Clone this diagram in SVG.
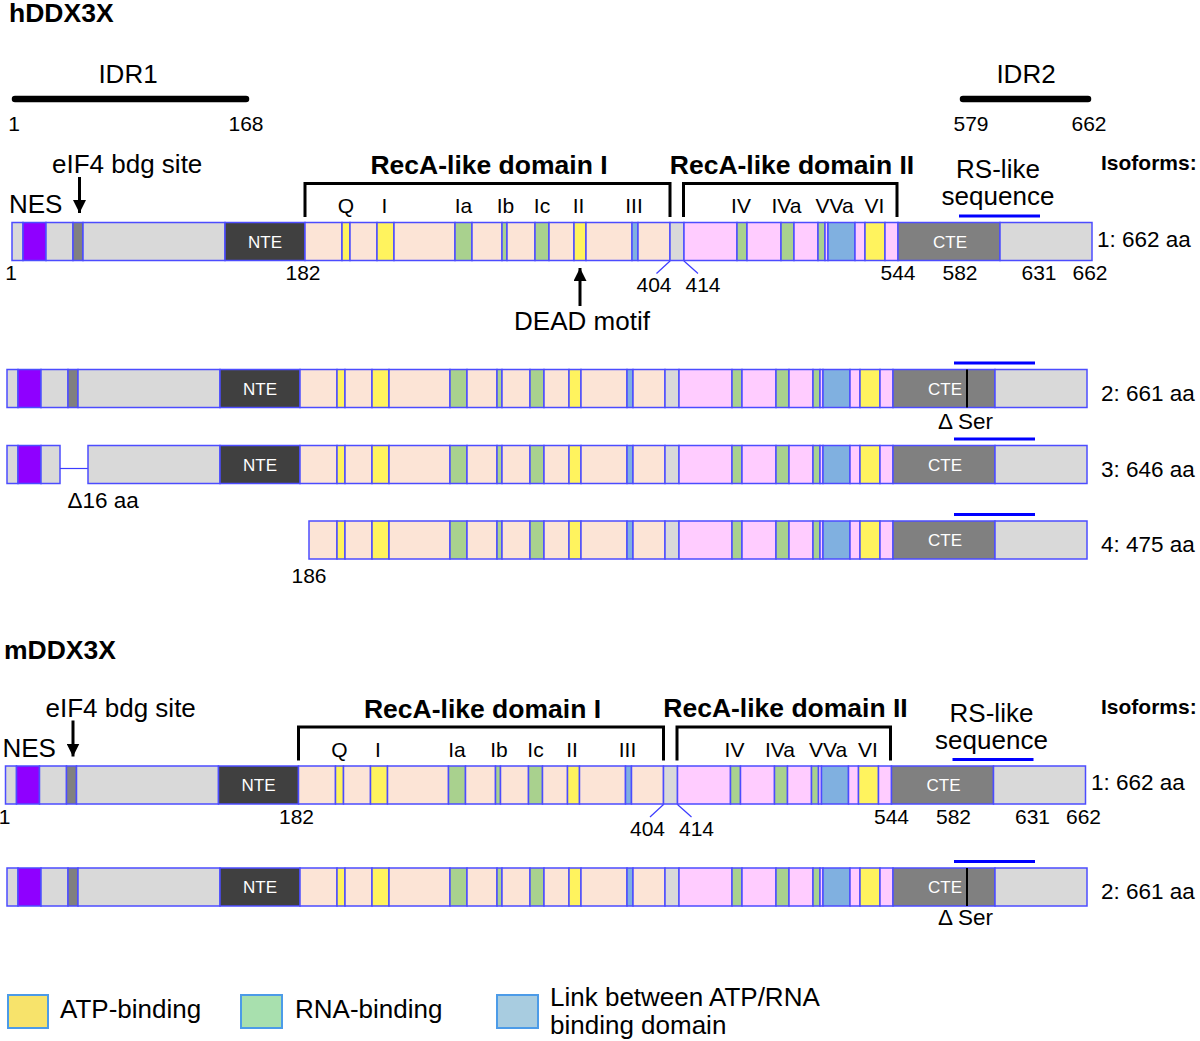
<svg xmlns="http://www.w3.org/2000/svg" xmlns:xlink="http://www.w3.org/1999/xlink" width="1200" height="1041" viewBox="0 0 1200 1041">
<style>
text{font-family:"Liberation Sans",Arial,sans-serif;fill:#000}
.s{stroke:#4c4cff;stroke-width:1.5}
.pe{fill:#fce4d6}.ye{fill:#fff35e}.gr{fill:#a9d18e}.bl{fill:#80b0e0}.gy{fill:#d9d9d9}.pk{fill:#ffccff}.dk{fill:#404040}.md{fill:#808080}.pu{fill:#8f00ff}
.w{fill:#fff;font-size:17px;text-anchor:middle}
.t26{font-size:26px}
.b26{font-size:26.5px;font-weight:bold}
.m{font-size:21px;text-anchor:middle}
.n{font-size:21px;text-anchor:middle}
.iso{font-size:22.5px}
.rs{stroke:#0000ff;stroke-width:3}
.br{fill:none;stroke:#000;stroke-width:3}
.tk{stroke:#3c3cff;stroke-width:1.2}
.ar{stroke:#000;stroke-width:3;marker-end:url(#ah)}
.c{text-anchor:middle}
</style>
<defs>
<marker id="ah" viewBox="0 0 10 10" refX="10" refY="5" markerWidth="13" markerHeight="13" markerUnits="userSpaceOnUse" orient="auto"><path d="M0,0 L10,5 L0,10 z" fill="#000"/></marker>
<g id="core">
<rect class="s ye" x="342" width="8" height="38"/>
<rect class="s pe" x="350" width="27" height="38"/>
<rect class="s ye" x="377" width="17" height="38"/>
<rect class="s pe" x="394" width="61" height="38"/>
<rect class="s gr" x="455" width="17" height="38"/>
<rect class="s pe" x="472" width="30" height="38"/>
<rect class="s gr" x="502" width="5" height="38"/>
<rect class="s pe" x="507" width="28" height="38"/>
<rect class="s gr" x="535" width="14" height="38"/>
<rect class="s pe" x="549" width="25" height="38"/>
<rect class="s ye" x="574" width="12" height="38"/>
<rect class="s pe" x="586" width="46" height="38"/>
<rect class="s bl" x="632" width="6" height="38"/>
<rect class="s pe" x="638" width="32" height="38"/>
<rect class="s gy" x="670" width="14" height="38"/>
<rect class="s pk" x="684" width="53" height="38"/>
<rect class="s gr" x="737" width="10" height="38"/>
<rect class="s pk" x="747" width="34" height="38"/>
<rect class="s gr" x="781" width="13" height="38"/>
<rect class="s pk" x="794" width="24" height="38"/>
<rect class="s gr" x="818" width="7" height="38"/>
<rect class="s pk" x="825" width="3" height="38"/>
<rect class="s bl" x="828" width="27" height="38"/>
<rect class="s pk" x="855" width="10" height="38"/>
<rect class="s ye" x="865" width="20" height="38"/>
<rect class="s pk" x="885" width="13" height="38"/>
<rect class="s md" x="898" width="102" height="38"/>
<rect class="s gy" x="1000" width="92" height="38"/>
<text class="w" x="950" y="25">CTE</text>
<line class="rs" x1="959" y1="-6.5" x2="1040" y2="-6.5"/>
</g>
<g id="head">
<rect class="s gy" x="12" width="11" height="38"/>
<rect class="s pu" x="23" width="23" height="38"/>
<rect class="s gy" x="46" width="27" height="38"/>
<rect class="s md" x="73" width="10" height="38"/>
<rect class="s gy" x="83" width="142" height="38"/>
<rect class="s dk" x="225" width="80" height="38"/>
<rect class="s pe" x="305" width="37" height="38"/>
<text class="w" x="265" y="25">NTE</text>
</g>
<g id="annot">
<text class="t26" x="52" y="173">eIF4 bdg site</text>
<text class="t26" x="9" y="213">NES</text>
<path class="br" d="M305,217 V183.5 H670 V217"/>
<path class="br" d="M683.5,217 V183.5 H897 V217"/>
<text class="b26 c" x="489" y="174">RecA-like domain I</text>
<text class="b26 c" x="792" y="173.5">RecA-like domain II</text>
<text class="m" x="346" y="213">Q</text>
<text class="m" x="384.5" y="213">I</text>
<text class="m" x="463.5" y="213">Ia</text>
<text class="m" x="505.5" y="213">Ib</text>
<text class="m" x="542" y="213">Ic</text>
<text class="m" x="578.5" y="213">II</text>
<text class="m" x="634" y="213">III</text>
<text class="m" x="741" y="213">IV</text>
<text class="m" x="786.5" y="213">IVa</text>
<text class="m" x="834.5" y="213">VVa</text>
<text class="m" x="874.5" y="213">VI</text>
<text class="t26 c" x="998" y="178">RS-like</text>
<text class="t26 c" x="998" y="205">sequence</text>
<text class="n" x="11" y="280">1</text>
<text class="n" x="303" y="280">182</text>
<text class="n" x="654" y="292">404</text>
<text class="n" x="703" y="292">414</text>
<text class="n" x="898" y="280">544</text>
<text class="n" x="960" y="280">582</text>
<text class="n" x="1039" y="280">631</text>
<text class="n" x="1090" y="280">662</text>
</g>
</defs>

<g id="titles">
<text class="b26" x="9" y="22">hDDX3X</text>
<text class="b26" x="4" y="659">mDDX3X</text>
</g>

<g id="idr1">
<text class="t26 c" x="128" y="83">IDR1</text>
<line x1="15" y1="99" x2="246" y2="99" stroke="#000" stroke-width="6.5" stroke-linecap="round"/>
<text class="n" x="14" y="131">1</text>
<text class="n" x="246" y="131">168</text>
</g>
<g id="idr2">
<text class="t26 c" x="1026" y="83">IDR2</text>
<line x1="963" y1="99" x2="1088" y2="99" stroke="#000" stroke-width="6.5" stroke-linecap="round"/>
<text class="n" x="971" y="131">579</text>
<text class="n" x="1089" y="131">662</text>
</g>

<g id="h-annotations">
<use xlink:href="#annot"/>
<text style="font-size:21px;font-weight:bold" x="1101" y="170">Isoforms:</text>
<text class="t26 c" x="582" y="330">DEAD motif</text>
</g>

<g id="h-iso1" transform="translate(0,222.5)">
<use xlink:href="#head"/><use xlink:href="#core"/>
<text class="iso" x="1097" y="24">1: 662 aa</text>
</g>

<g id="h-iso2" transform="translate(-5,369.5)">
<use xlink:href="#head"/><use xlink:href="#core"/>
<line x1="972" y1="0" x2="972" y2="38" stroke="#000" stroke-width="2"/>
<text class="iso" x="1106" y="31">2: 661 aa</text>
<text class="iso c" x="970.5" y="59">Δ Ser</text>
</g>

<g id="h-iso3" transform="translate(-5,445.5)">
<rect class="s gy" x="12" width="11" height="38"/>
<rect class="s pu" x="23" width="23" height="38"/>
<rect class="s gy" x="46" width="19" height="38"/>
<line class="tk" x1="65" y1="23" x2="93" y2="23" stroke-width="1.5"/>
<rect class="s gy" x="93" width="132" height="38"/>
<rect class="s dk" x="225" width="80" height="38"/>
<rect class="s pe" x="305" width="37" height="38"/>
<text class="w" x="265" y="25">NTE</text>
<use xlink:href="#core"/>
<text class="iso" x="1106" y="31">3: 646 aa</text>
<text class="iso" x="72.5" y="62">Δ16 aa</text>
</g>

<g id="h-iso4" transform="translate(-5,521)">
<rect class="s pe" x="314" width="28" height="38"/>
<use xlink:href="#core"/>
<text class="iso" x="1106" y="31">4: 475 aa</text>
<text class="n" x="314" y="62">186</text>
</g>

<g id="m-annotations">
<use xlink:href="#annot" transform="translate(-6.5,543.5)"/>
<text style="font-size:21px;font-weight:bold" x="1101" y="714">Isoforms:</text>
</g>

<g id="m-iso1" transform="translate(-6.5,766)">
<use xlink:href="#head"/><use xlink:href="#core"/>
<text class="iso" x="1097.5" y="24">1: 662 aa</text>
</g>

<g id="m-iso2" transform="translate(-5,868)">
<use xlink:href="#head"/><use xlink:href="#core"/>
<line x1="972" y1="0" x2="972" y2="38" stroke="#000" stroke-width="2"/>
<text class="iso" x="1106" y="31">2: 661 aa</text>
<text class="iso c" x="970.5" y="57">Δ Ser</text>
</g>

<g id="connectors">
<line class="ar" x1="79.5" y1="177" x2="79.5" y2="213"/>
<line class="ar" x1="580" y1="306" x2="580" y2="268"/>
<line class="tk" x1="670" y1="261" x2="656.5" y2="273.5"/>
<line class="tk" x1="684" y1="261" x2="698" y2="273.5"/>
<line class="ar" x1="73" y1="720.5" x2="73" y2="756.5"/>
<line class="tk" x1="663.5" y1="804.5" x2="650" y2="817"/>
<line class="tk" x1="677.5" y1="804.5" x2="691.5" y2="817"/>
</g>

<g id="legend">
<rect x="8" y="995" width="40" height="33" fill="#f7e36b" stroke="#4c9be8" stroke-width="2"/>
<text class="t26" x="60" y="1018">ATP-binding</text>
<rect x="241" y="995" width="41" height="33" fill="#a8e0ae" stroke="#4c9be8" stroke-width="2"/>
<text class="t26" x="295" y="1018">RNA-binding</text>
<rect x="497" y="995" width="41" height="33" fill="#a8cce0" stroke="#4c9be8" stroke-width="2"/>
<text class="t26" x="550" y="1006">Link between ATP/RNA</text>
<text class="t26" x="550" y="1034">binding domain</text>
</g>
</svg>
